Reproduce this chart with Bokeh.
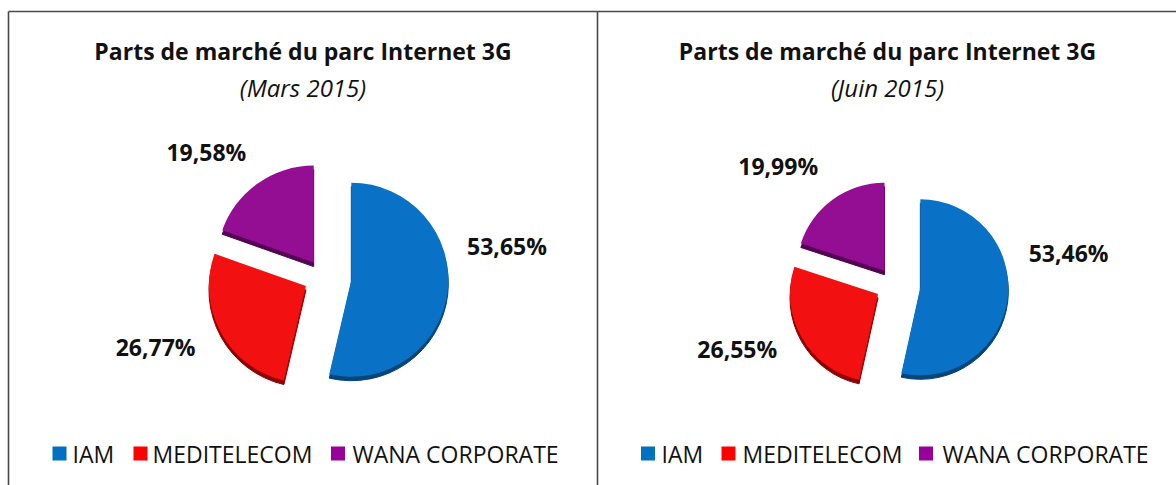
import math
from bokeh.plotting import figure
from bokeh.models import ColumnDataSource
from bokeh.core.properties import value
from bokeh.embed import file_html
from bokeh.resources import INLINE

# ---------------- data ----------------
operators = ["IAM", "MEDITELECOM", "WANA CORPORATE"]
share_mars = [53.65, 26.77, 19.58]
share_juin = [53.46, 26.55, 19.99]
title_txt = "Parts de marché du parc Internet 3G"
subtitles = ["(Mars 2015)", "(Juin 2015)"]

# ---------------- style ----------------
colors = ["#0A72C6", "#F21010", "#930E93"]
shadow = ["#05457A", "#8E0000", "#530053"]
legend_colors = ["#0070C0", "#FF0000", "#990099"]
W, H = 1176, 485
FONT = "Open Sans"

panels = [
    dict(values=share_mars, sub=subtitles[0], cx=323, cy=276, r=97,
         explode=[28, 20, 17], lab_d=[186, 182, 171], lab_nudge=[-16, 6, -8],
         title_x=302.5, sq_x=[59, 140, 337.5], txt_x=[72, 152, 352]),
    dict(values=share_juin, sub=subtitles[1], cx=894, cy=284, r=88,
         explode=[26, 19, 17], lab_d=[177, 170, 166], lab_nudge=[-16.6, 7.4, -8.5],
         title_x=887, sq_x=[647.5, 728, 925.5], txt_x=[661, 742, 942]),
]

p = figure(width=W, height=H, x_range=(0, W), y_range=(0, H),
           output_backend="svg", toolbar_location=None, min_border=0,
           x_axis_type=None, y_axis_type=None)
p.outline_line_color = None
p.background_fill_color = "white"
p.border_fill_color = "white"

def Y(y):
    return H - y

# panel borders
p.segment(x0=[8, 8, 597], y0=[Y(11), Y(11), Y(11)], x1=[W, 8, 597], y1=[Y(11), -5, -5],
          line_color="#4a4a4a", line_width=1.6)

for pan in panels:
    vals = pan["values"]
    tot = sum(vals)
    cum = 0.0
    xs, ys, st, en, lx, ly, lt = [], [], [], [], [], [], []
    for i, v in enumerate(vals):
        f0 = cum / tot
        f1 = (cum + v) / tot
        cum += v
        fm = (f0 + f1) / 2
        th = 2 * math.pi * fm
        e = pan["explode"][i]
        ax = pan["cx"] + e * math.sin(th)
        ay = Y(pan["cy"]) + e * math.cos(th)
        xs.append(ax); ys.append(ay)
        st.append(math.pi / 2 - 2 * math.pi * f0)
        en.append(math.pi / 2 - 2 * math.pi * f1)
        tl = th + math.radians(pan["lab_nudge"][i])
        d = pan["lab_d"][i]
        lx.append(pan["cx"] + d * math.sin(tl))
        ly.append(Y(pan["cy"]) + d * math.cos(tl))
        lt.append(f"{v:.2f}".replace(".", ",") + "%")
    src = ColumnDataSource(dict(x=xs, y=ys, ys=[y - 4 for y in ys], s=st, e=en,
                                c=colors, sc=shadow))
    p.wedge(x="x", y="ys", radius=pan["r"], start_angle="s", end_angle="e",
            direction="clock", fill_color="sc", line_color="sc", line_width=1, source=src)
    p.wedge(x="x", y="y", radius=pan["r"], start_angle="s", end_angle="e",
            direction="clock", fill_color="c", line_color=None, source=src)
    p.text(x=lx, y=ly, text=lt, text_font=value(FONT), text_font_style="bold",
           text_font_size="23px", text_align="center", text_baseline="middle",
           text_color="#111111")
    # titles
    p.text(x=[pan["title_x"]], y=[Y(50)], text=[title_txt], text_font=value(FONT),
           text_font_style="bold", text_font_size="23px", text_align="center",
           text_baseline="middle", text_color="#111111")
    p.text(x=[pan["title_x"]], y=[Y(87)], text=[pan["sub"]], text_font=value(FONT),
           text_font_style="italic", text_font_size="24px", text_align="center",
           text_baseline="middle", text_color="#111111")
    # legend
    p.scatter(x=pan["sq_x"], y=[Y(453)] * 3, marker="square", size=14,
              fill_color=legend_colors, line_color=None)
    p.text(x=pan["txt_x"], y=[Y(453)] * 3, text=operators, text_font=value(FONT),
           text_font_size="23px", text_align="left", text_baseline="middle",
           text_color="#111111")

open("out.html", "w").write(file_html(p, INLINE))
